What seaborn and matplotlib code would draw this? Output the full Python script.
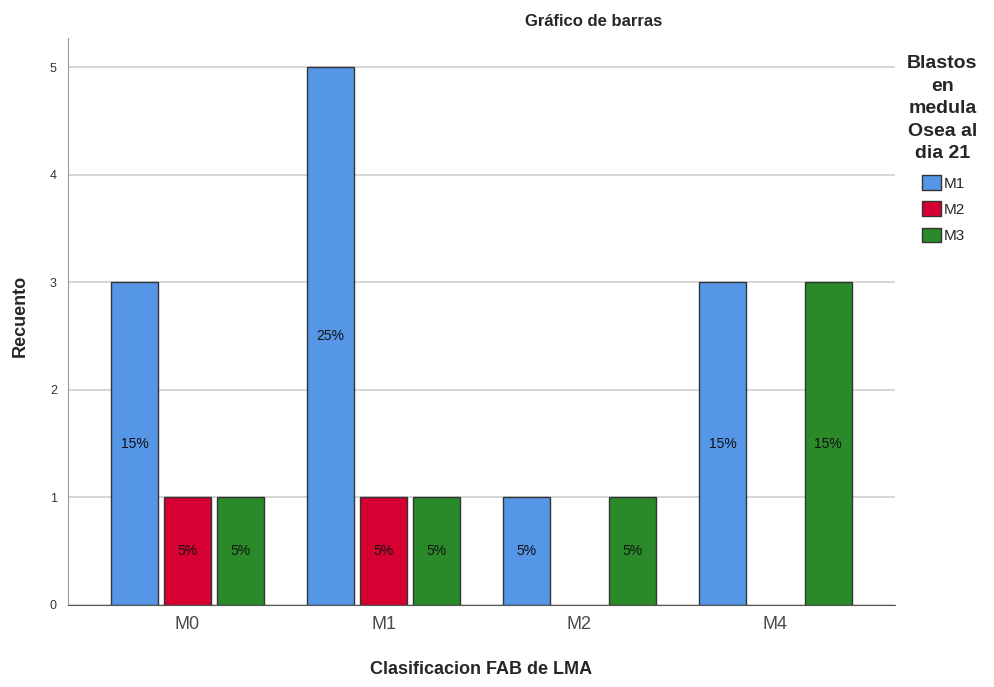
import matplotlib
matplotlib.use("Agg")
import matplotlib.pyplot as plt
from matplotlib.patches import Patch
import seaborn as sns
import pandas as pd

# Counts per FAB class and blast group
fab_classes = ["M0", "M1", "M2", "M4"]
blast_groups = ["M1", "M2", "M3"]
m1_counts = [3, 5, 1, 3]
m2_counts = [1, 1, 0, 0]
m3_counts = [1, 1, 1, 3]
total_cases = 20

colors = {"M1": "#5596E6", "M2": "#D60032", "M3": "#2A8A2A"}

rows = []
for grp, vals in zip(blast_groups, [m1_counts, m2_counts, m3_counts]):
    for fab, v in zip(fab_classes, vals):
        if v > 0:
            rows.append({"fab": fab, "grupo": grp, "n": v})
df = pd.DataFrame(rows)

sns.set_style("white")
plt.rcParams["font.family"] = ["Liberation Sans", "DejaVu Sans"]

fig = plt.figure(figsize=(9.94, 6.87), dpi=100)
ax = fig.add_axes([0.0684, 0.1194, 0.832, 0.8253])

sns.barplot(data=df, x="fab", y="n", hue="grupo", order=fab_classes,
            hue_order=blast_groups, palette=colors, width=0.81, gap=0.11,
            edgecolor="#333333", linewidth=1.0, ax=ax, legend=False,
            errorbar=None, saturation=1)

ax.set_xlim(-0.61, 3.61)
ax.set_ylim(0, 5.27)
ax.set_yticks(range(0, 6))
ax.yaxis.grid(True, color="#d3d3d3", linewidth=1.3)
ax.set_axisbelow(True)
for s in ["top", "right"]:
    ax.spines[s].set_visible(False)
ax.spines["left"].set_color("#9a9a9a")
ax.spines["bottom"].set_color("#555555")
ax.tick_params(axis="y", labelsize=9, colors="#333333", length=0, pad=8)
ax.tick_params(axis="x", labelsize=13, colors="#4a4a4a", length=0, pad=8)
ax.set_xlabel("Clasificacion FAB de LMA", fontsize=13, fontweight="bold", labelpad=20)
ax.set_ylabel("Recuento", fontsize=13, fontweight="bold", va="center")
ax.yaxis.set_label_coords(-0.058, 0.51)

# Percentage labels centred in each bar
for container in ax.containers:
    for bar in container:
        h = bar.get_height()
        if h and h > 0:
            ax.text(bar.get_x() + bar.get_width() / 2, h / 2,
                    f"{round(h / total_cases * 100)}%", ha="center",
                    va="center", fontsize=10, color="#111111")

fig.text(0.597, 0.968, "Gráfico de barras", ha="center", va="center",
         fontsize=12, fontweight="bold")

# Legend title and entries
fig.text(0.948, 0.92, "Blastos\nen\nmedula\nOsea al\ndia 21", ha="center",
         va="top", fontsize=14, fontweight="bold", linespacing=1.43)
handles = [Patch(facecolor=colors[g], edgecolor="#333333", label=g) for g in blast_groups]
fig.legend(handles=handles, loc="upper left", bbox_to_anchor=(0.928, 0.745),
           frameon=False, fontsize=11, handlelength=1.2, handleheight=1.1,
           handletextpad=0.2, labelspacing=0.7, borderpad=0, borderaxespad=0)

fig.savefig("out.png", dpi=100)
